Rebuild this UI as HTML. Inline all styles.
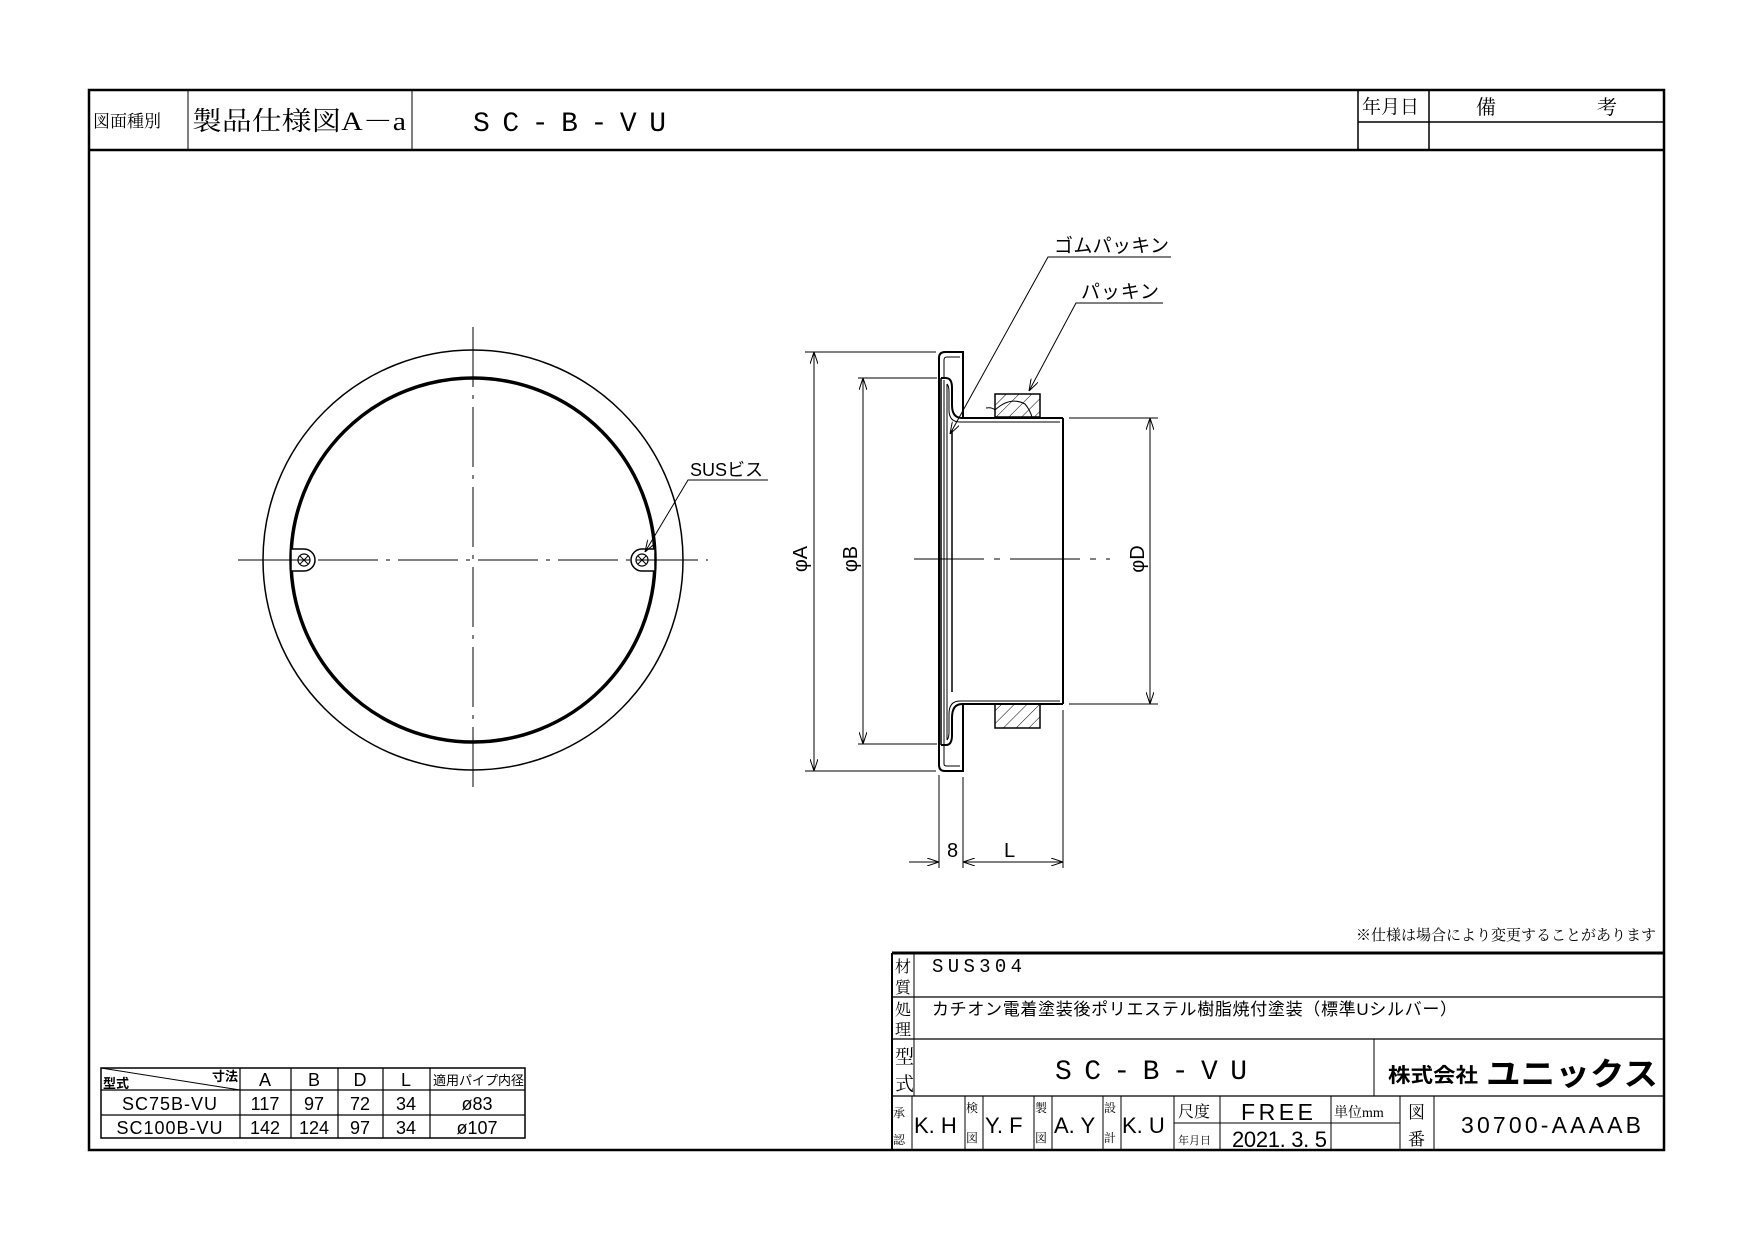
<!DOCTYPE html>
<html><head><meta charset="utf-8"><style>
html,body{margin:0;padding:0;background:#fff;}
svg{display:block;}
text{font-family:"Liberation Sans","Noto Sans CJK JP",sans-serif;fill:#000;}
.serif{font-family:"Liberation Serif","Noto Serif CJK SC",serif;}
.mono{font-family:"Liberation Mono","Noto Sans CJK JP",monospace;}
</style></head><body>
<svg width="1755" height="1240" viewBox="0 0 1755 1240" xmlns="http://www.w3.org/2000/svg">
<defs>
<pattern id="hatch" patternUnits="userSpaceOnUse" width="9" height="9" patternTransform="rotate(45)">
<line x1="0" y1="0" x2="0" y2="9" stroke="#000" stroke-width="1"/>
</pattern>
<marker id="ar" viewBox="0 0 12 8" refX="12" refY="4" markerWidth="12" markerHeight="8" orient="auto" markerUnits="userSpaceOnUse">
<path d="M0,0 L12,4 L0,8" fill="none" stroke="#000" stroke-width="1"/>
</marker>
</defs>

<rect x="89" y="90" width="1575" height="1060" fill="none" stroke="#000" stroke-width="2.5"/>
<line x1="89" y1="150" x2="1664" y2="150" stroke="#000" stroke-width="2.5"/>
<line x1="188" y1="90" x2="188" y2="150" stroke="#000" stroke-width="1"/>
<line x1="412" y1="90" x2="412" y2="150" stroke="#000" stroke-width="1"/>
<line x1="1358" y1="90" x2="1358" y2="150" stroke="#000" stroke-width="1.5"/>
<line x1="1429" y1="90" x2="1429" y2="150" stroke="#000" stroke-width="1.5"/>
<line x1="1358" y1="122" x2="1664" y2="122" stroke="#000" stroke-width="1.5"/>
<text x="93" y="127" font-size="17" class="serif">図面種別</text>
<text x="192" y="130" font-size="26" class="serif" textLength="214" lengthAdjust="spacingAndGlyphs">製品仕様図A－a</text>
<text x="473" y="131" font-size="28" class="mono" textLength="193" lengthAdjust="spacing">SC-B-VU</text>
<text x="1362" y="113" font-size="19" class="serif">年月日</text>
<text x="1476" y="114" font-size="20" class="serif">備</text>
<text x="1597" y="114" font-size="20" class="serif">考</text>

<g fill="none" stroke="#000">
<circle cx="473" cy="560" r="210" stroke-width="1.5"/>
<circle cx="473" cy="560" r="182" stroke-width="3.5"/>
<line x1="238" y1="560" x2="708" y2="560" stroke-width="1" stroke-dasharray="60,8,4,8"/>
<line x1="473" y1="327" x2="473" y2="795" stroke-width="1" stroke-dasharray="60,8,4,8"/>
<path d="M642,549 A11,11 0 1 0 642,571 L655,571 L655,549 Z" fill="#fff" stroke-width="1.5"/>
<circle cx="642" cy="560" r="6" stroke-width="1.2"/>
<line x1="638" y1="556" x2="646" y2="564" stroke-width="1"/>
<line x1="646" y1="556" x2="638" y2="564" stroke-width="1"/>
<path d="M304,549 A11,11 0 1 1 304,571 L291,571 L291,549 Z" fill="#fff" stroke-width="1.5"/>
<circle cx="304" cy="560" r="6" stroke-width="1.2"/>
<line x1="300" y1="556" x2="308" y2="564" stroke-width="1"/>
<line x1="308" y1="556" x2="300" y2="564" stroke-width="1"/>
<line x1="636" y1="560" x2="666" y2="560" stroke-width="1"/>
<line x1="280" y1="560" x2="310" y2="560" stroke-width="1"/>
<polyline points="768,480 688,480 645,552" stroke-width="1" marker-end="url(#ar)"/>
</g>
<text x="690" y="476" font-size="18">SUSビス</text>

<g fill="none" stroke="#000">
<path d="M963,357 L963,352 L945,352 Q939,352 939,358 L939,765 Q939,771 945,771 L963,771 L963,766" stroke-width="2"/>
<line x1="963" y1="352" x2="963" y2="418" stroke-width="2"/>
<line x1="963" y1="704" x2="963" y2="771" stroke-width="2"/>
<path d="M944,360 Q944,357 947,357 L960,357" stroke-width="1"/>
<line x1="944" y1="360" x2="944" y2="378" stroke-width="1"/>
<line x1="944" y1="745" x2="944" y2="764" stroke-width="1"/>
<path d="M944,764 Q944,766 947,766 L960,766" stroke-width="1"/>
<line x1="941" y1="378" x2="941" y2="745" stroke-width="1.5"/>
<line x1="944" y1="380" x2="944" y2="744" stroke-width="1"/>
<line x1="947" y1="384" x2="947" y2="740" stroke-width="1"/>
<path d="M941,378 L946,378 Q952,378 952,388 L952,405 Q952,418 962,418 L1063,418" stroke-width="2"/>
<path d="M947,384 Q949,386 949,392 L949,410 Q949,422 960,422 L1060,422" stroke-width="1"/>
<path d="M941,745 L946,745 Q952,745 952,735 L952,718 Q952,704 962,704 L1063,704" stroke-width="2"/>
<path d="M947,740 Q949,738 949,732 L949,714 Q949,701 960,701 L1060,701" stroke-width="1"/>
<line x1="952" y1="430" x2="952" y2="692" stroke-width="1.5"/>
<line x1="1063" y1="418" x2="1063" y2="704" stroke-width="2"/>
<rect x="995" y="394" width="45" height="23" fill="url(#hatch)" stroke-width="1.5"/>
<rect x="995" y="704" width="45" height="24" fill="url(#hatch)" stroke-width="1.5"/>
<path d="M986,408 Q992,407 995,410 Q1010,396 1025,404 Q1030,410 1032,417" stroke-width="1"/>
<line x1="914" y1="559" x2="1110" y2="559" stroke-width="1" stroke-dasharray="70,10,6,10"/>
<line x1="805" y1="352" x2="936" y2="352" stroke-width="1"/>
<line x1="805" y1="771" x2="936" y2="771" stroke-width="1"/>
<line x1="814" y1="559" x2="814" y2="352" stroke-width="1" marker-end="url(#ar)"/>
<line x1="814" y1="559" x2="814" y2="771" stroke-width="1" marker-end="url(#ar)"/>
<line x1="858" y1="378" x2="937" y2="378" stroke-width="1"/>
<line x1="858" y1="744" x2="937" y2="744" stroke-width="1"/>
<line x1="863" y1="559" x2="863" y2="378" stroke-width="1" marker-end="url(#ar)"/>
<line x1="863" y1="559" x2="863" y2="744" stroke-width="1" marker-end="url(#ar)"/>
<line x1="1069" y1="418" x2="1158" y2="418" stroke-width="1"/>
<line x1="1069" y1="704" x2="1158" y2="704" stroke-width="1"/>
<line x1="1150" y1="559" x2="1150" y2="418" stroke-width="1" marker-end="url(#ar)"/>
<line x1="1150" y1="559" x2="1150" y2="704" stroke-width="1" marker-end="url(#ar)"/>
<line x1="939" y1="775" x2="939" y2="868" stroke-width="1"/>
<line x1="963" y1="777" x2="963" y2="868" stroke-width="1"/>
<line x1="1063" y1="710" x2="1063" y2="868" stroke-width="1"/>
<line x1="909" y1="862" x2="939" y2="862" stroke-width="1" marker-end="url(#ar)"/>
<line x1="1000" y1="862" x2="963" y2="862" stroke-width="1" marker-end="url(#ar)"/>
<line x1="1000" y1="862" x2="1063" y2="862" stroke-width="1" marker-end="url(#ar)"/>
<polyline points="1171,257 1048,257 950,434" stroke-width="1" marker-end="url(#ar)"/>
<polyline points="1163,303 1076,303 1029,391" stroke-width="1" marker-end="url(#ar)"/>
</g>
<text x="1054" y="252" font-size="19" textLength="115">ゴムパッキン</text>
<text x="1081" y="298" font-size="19" textLength="78">パッキン</text>
<text x="947" y="857" font-size="20">8</text>
<text x="1004" y="857" font-size="20">L</text>
<text transform="translate(807,559) rotate(-90)" font-size="20" text-anchor="middle">φA</text>
<text transform="translate(857,559) rotate(-90)" font-size="20" text-anchor="middle">φB</text>
<text transform="translate(1144,559) rotate(-90)" font-size="20" text-anchor="middle">φD</text>

<text x="1656" y="940" font-size="15" text-anchor="end" class="serif">※仕様は場合により変更することがあります</text>

<g fill="none" stroke="#000">
<line x1="892" y1="953" x2="1664" y2="953" stroke-width="3"/>
<line x1="892" y1="953" x2="892" y2="1150" stroke-width="2"/>
<line x1="914" y1="953" x2="914" y2="1096" stroke-width="1"/>
<line x1="892" y1="997" x2="1664" y2="997" stroke-width="1.2"/>
<line x1="892" y1="1039" x2="1664" y2="1039" stroke-width="1.2"/>
<line x1="892" y1="1096" x2="1664" y2="1096" stroke-width="1.2"/>
<line x1="1374" y1="1039" x2="1374" y2="1096" stroke-width="1"/>
<line x1="912" y1="1096" x2="912" y2="1150" stroke-width="1"/>
<line x1="965" y1="1096" x2="965" y2="1150" stroke-width="1"/>
<line x1="983" y1="1096" x2="983" y2="1150" stroke-width="1"/>
<line x1="1034" y1="1096" x2="1034" y2="1150" stroke-width="1"/>
<line x1="1052" y1="1096" x2="1052" y2="1150" stroke-width="1"/>
<line x1="1103" y1="1096" x2="1103" y2="1150" stroke-width="1"/>
<line x1="1121" y1="1096" x2="1121" y2="1150" stroke-width="1"/>
<line x1="1174" y1="1096" x2="1174" y2="1150" stroke-width="1"/>
<line x1="1220" y1="1096" x2="1220" y2="1150" stroke-width="1"/>
<line x1="1331" y1="1096" x2="1331" y2="1150" stroke-width="1"/>
<line x1="1400" y1="1096" x2="1400" y2="1150" stroke-width="1"/>
<line x1="1434" y1="1096" x2="1434" y2="1150" stroke-width="1"/>
<line x1="1174" y1="1123" x2="1400" y2="1123" stroke-width="1"/>
</g>
<text x="895" y="972" font-size="16" class="serif">材</text>
<text x="895" y="993" font-size="16" class="serif">質</text>
<text x="895" y="1015" font-size="16" class="serif">処</text>
<text x="895" y="1035" font-size="16" class="serif">理</text>
<text x="895" y="1063" font-size="19" class="serif">型</text>
<text x="895" y="1090" font-size="19" class="serif">式</text>
<text x="932" y="972" font-size="19" class="mono" textLength="90">SUS304</text>
<text x="932" y="1015" font-size="17" textLength="525">カチオン電着塗装後ポリエステル樹脂焼付塗装（標準Uシルバー）</text>
<text x="1055" y="1079" font-size="28" class="mono" textLength="192" lengthAdjust="spacing">SC-B-VU</text>
<text x="1388" y="1082" font-size="20" font-weight="bold" textLength="90" lengthAdjust="spacingAndGlyphs">株式会社</text>
<text x="1486" y="1085" font-size="32" font-weight="bold" textLength="172" lengthAdjust="spacingAndGlyphs">ユニックス</text>
<text x="893" y="1117" font-size="12" class="serif">承</text>
<text x="893" y="1144" font-size="12" class="serif">認</text>
<text x="914" y="1133" font-size="22">K. H</text>
<text x="966" y="1112" font-size="12" class="serif">検</text>
<text x="966" y="1142" font-size="12" class="serif">図</text>
<text x="985" y="1133" font-size="22">Y. F</text>
<text x="1035" y="1112" font-size="12" class="serif">製</text>
<text x="1035" y="1142" font-size="12" class="serif">図</text>
<text x="1054" y="1133" font-size="22">A. Y</text>
<text x="1104" y="1112" font-size="12" class="serif">設</text>
<text x="1104" y="1142" font-size="12" class="serif">計</text>
<text x="1122" y="1133" font-size="22">K. U</text>
<text x="1178" y="1117" font-size="16" class="serif">尺度</text>
<text x="1178" y="1144" font-size="11" class="serif">年月日</text>
<text x="1241" y="1120" font-size="23" textLength="72">FREE</text>
<text x="1232" y="1147" font-size="22" textLength="95">2021. 3. 5</text>
<text x="1334" y="1117" font-size="14" class="serif">単位mm</text>
<text x="1408" y="1118" font-size="17" class="serif">図</text>
<text x="1408" y="1145" font-size="17" class="serif">番</text>
<text x="1461" y="1133" font-size="23" textLength="180">30700-AAAAB</text>

<g fill="none" stroke="#000" stroke-width="1.2">
<rect x="101" y="1068" width="424" height="70" stroke-width="1.5"/>
<line x1="101" y1="1090" x2="525" y2="1090"/>
<line x1="101" y1="1115" x2="525" y2="1115"/>
<line x1="240" y1="1068" x2="240" y2="1138"/>
<line x1="291" y1="1068" x2="291" y2="1138"/>
<line x1="338" y1="1068" x2="338" y2="1138"/>
<line x1="383" y1="1068" x2="383" y2="1138"/>
<line x1="430" y1="1068" x2="430" y2="1138"/>
<line x1="101" y1="1068" x2="240" y2="1090" stroke-width="1"/>
</g>
<text x="103" y="1088" font-size="13" font-weight="bold">型式</text>
<text x="212" y="1081" font-size="13" font-weight="bold">寸法</text>
<g font-size="18" text-anchor="middle" class="mono">
<text x="265" y="1086">A</text><text x="314" y="1086">B</text><text x="360" y="1086">D</text><text x="406" y="1086">L</text>
<text x="170" y="1110" letter-spacing="1">SC75B-VU</text>
<text x="265" y="1110">117</text><text x="314" y="1110">97</text><text x="360" y="1110">72</text><text x="406" y="1110">34</text><text x="477" y="1110">ø83</text>
<text x="170" y="1134" letter-spacing="1">SC100B-VU</text>
<text x="265" y="1134">142</text><text x="314" y="1134">124</text><text x="360" y="1134">97</text><text x="406" y="1134">34</text><text x="477" y="1134">ø107</text>
</g>
<text x="433" y="1085" font-size="13">適用パイプ内径</text>
</svg>
</body></html>
